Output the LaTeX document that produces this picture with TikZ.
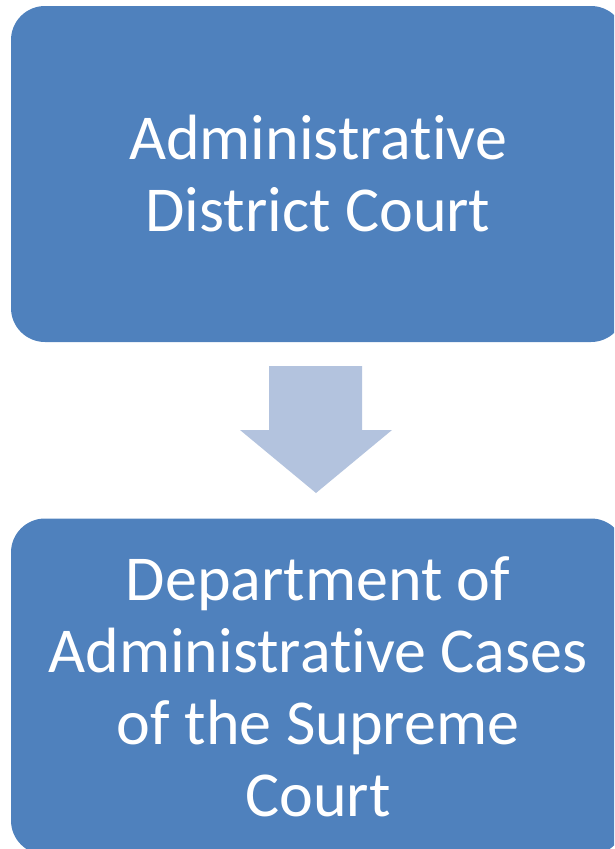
\documentclass[tikz,border=0pt]{standalone}
\usepackage{fontspec}
\setmainfont{Carlito}[Ligatures=NoCommon]
\usetikzlibrary{calc}
\definecolor{boxblue}{RGB}{79,129,189}
\definecolor{arrowblue}{RGB}{179,195,222}
\tikzset{
  courtbox/.style={draw=none, fill=boxblue, rounded corners=34pt, minimum width=614pt, minimum height=336pt, inner sep=0pt, text=white, align=center, font=\fontsize{64}{72}\selectfont},
}
\begin{document}
\begin{tikzpicture}[x=1pt,y=-1pt]
\useasboundingbox (0,0) rectangle (614,849);
\clip (0,0) rectangle (614,849);
\node[courtbox] (top) at (318,174) {Administrative\\District Court};
\node[courtbox] (bottom) at (318,686.5) {Department of\\Administrative Cases\\of the Supreme\\Court};
\coordinate (as) at (316,366);
\fill[arrowblue] ($(as)+(-47,0)$) -- ($(as)+(46,0)$) -- ($(as)+(46,64)$) -- ($(as)+(76,64)$) -- ($(as)+(0,127)$) -- ($(as)+(-76,64)$) -- ($(as)+(-47,64)$) -- cycle;
\end{tikzpicture}
\end{document}
